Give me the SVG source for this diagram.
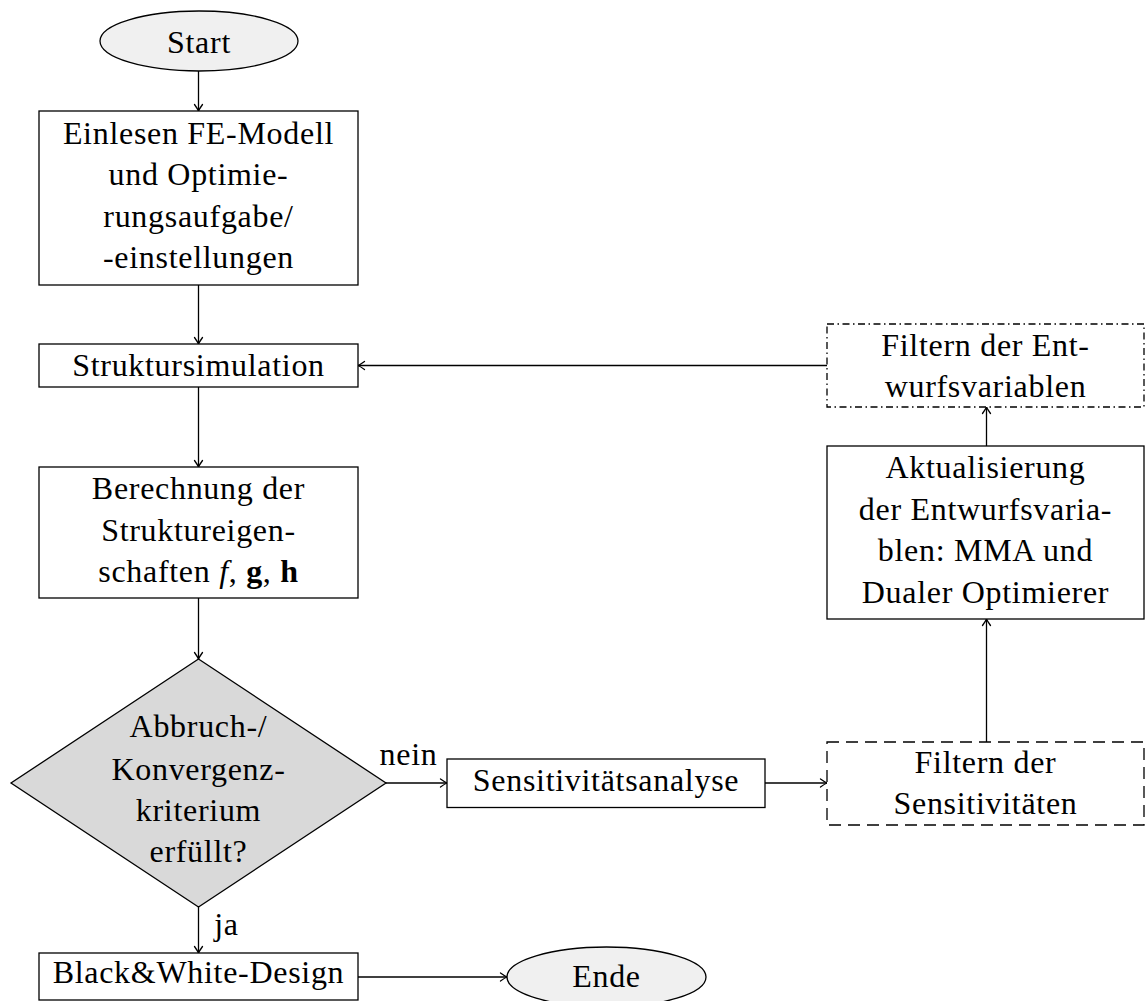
<svg xmlns="http://www.w3.org/2000/svg" width="1145" height="1001" viewBox="0 0 1145 1001">
<style>
  .box{fill:#fff;stroke:#000;stroke-width:1.3}
  .term{fill:#f0f0f0;stroke:#000;stroke-width:1.3}
  .dec{fill:#d9d9d9;stroke:#000;stroke-width:1.3}
  .dashed{fill:#fff;stroke:#000;stroke-width:1.3;stroke-dasharray:12 7}
  .dashdot{fill:#fff;stroke:#000;stroke-width:1.3;stroke-dasharray:7 3.5 1.5 3.5}
  .t{font-family:"Liberation Serif","Times New Roman",serif;font-size:32px;letter-spacing:0.7px;fill:#000;text-anchor:middle}
  .edge{fill:none;stroke:#000;stroke-width:1.3;marker-end:url(#arr)}
</style>
<defs>
  <marker id="arr" markerUnits="userSpaceOnUse" markerWidth="12" markerHeight="12" viewBox="-8 -6 10 12" refX="0" refY="0" orient="auto">
    <path d="M -6.5 -4 Q -2 -0.8 0 0 Q -2 0.8 -6.5 4" fill="none" stroke="#000" stroke-width="1.3" stroke-linecap="round" stroke-linejoin="round"/>
  </marker>
</defs>

<g id="connectors">
  <path class="edge" d="M198.5 71 V111"/>
  <path class="edge" d="M198.5 285 V344"/>
  <path class="edge" d="M198.5 387 V467"/>
  <path class="edge" d="M198.5 598 V659"/>
  <path class="edge" d="M198.5 907 V953"/>
  <path class="edge" d="M386 783 H447"/>
  <path class="edge" d="M765 783 H827"/>
  <path class="edge" d="M986.5 742 V619"/>
  <path class="edge" d="M986.5 446 V407"/>
  <path class="edge" d="M827 365.5 H358"/>
  <path class="edge" d="M358 977 H507"/>
  <text class="t" x="408.5" y="765">nein</text>
  <text class="t" x="226.5" y="935">ja</text>
</g>

<g id="start">
  <ellipse class="term" cx="199" cy="41" rx="99" ry="30"/>
  <text class="t" x="199" y="53">Start</text>
</g>

<g id="einlesen">
  <rect class="box" x="39" y="111" width="319" height="174"/>
  <text class="t" x="198.5" y="143.5">Einlesen FE-Modell</text>
  <text class="t" x="198.5" y="185">und Optimie-</text>
  <text class="t" x="198.5" y="226.5">rungsaufgabe/</text>
  <text class="t" x="198.5" y="268">-einstellungen</text>
</g>

<g id="struktursimulation">
  <rect class="box" x="39" y="344" width="319" height="43"/>
  <text class="t" x="198.5" y="376">Struktursimulation</text>
</g>

<g id="berechnung">
  <rect class="box" x="39" y="467" width="319" height="131"/>
  <text class="t" x="198.5" y="499">Berechnung der</text>
  <text class="t" x="198.5" y="541">Struktureigen-</text>
  <text class="t" x="198.5" y="582">schaften <tspan font-style="italic">f</tspan>, <tspan font-weight="bold">g</tspan>, <tspan font-weight="bold">h</tspan></text>
</g>

<g id="abbruch">
  <polygon class="dec" points="198.5,659 386,783 198.5,907 11,783"/>
  <text class="t" x="198.5" y="737">Abbruch-/</text>
  <text class="t" x="198.5" y="779.5">Konvergenz-</text>
  <text class="t" x="198.5" y="821">kriterium</text>
  <text class="t" x="198.5" y="862">erfüllt?</text>
</g>

<g id="sensitivitaetsanalyse">
  <rect class="box" x="447" y="759" width="318" height="48.5"/>
  <text class="t" x="606" y="791">Sensitivitätsanalyse</text>
</g>

<g id="filter-sens">
  <rect class="dashed" x="827" y="742" width="317" height="83"/>
  <text class="t" x="985.5" y="773">Filtern der</text>
  <text class="t" x="985.5" y="814">Sensitivitäten</text>
</g>

<g id="aktualisierung">
  <rect class="box" x="827" y="446" width="317" height="173"/>
  <text class="t" x="985.5" y="478">Aktualisierung</text>
  <text class="t" x="985.5" y="520">der Entwurfsvaria-</text>
  <text class="t" x="985.5" y="561">blen: MMA und</text>
  <text class="t" x="985.5" y="603">Dualer Optimierer</text>
</g>

<g id="filter-entwurf">
  <rect class="dashdot" x="827" y="324" width="317" height="83"/>
  <text class="t" x="985.5" y="356">Filtern der Ent-</text>
  <text class="t" x="985.5" y="397">wurfsvariablen</text>
</g>

<g id="bw-design">
  <rect class="box" x="39" y="953" width="319" height="47"/>
  <text class="t" x="198.5" y="983">Black&amp;White-Design</text>
</g>

<g id="ende">
  <ellipse class="term" cx="606.5" cy="977" rx="99.5" ry="30"/>
  <text class="t" x="606.5" y="987">Ende</text>
</g>
</svg>
